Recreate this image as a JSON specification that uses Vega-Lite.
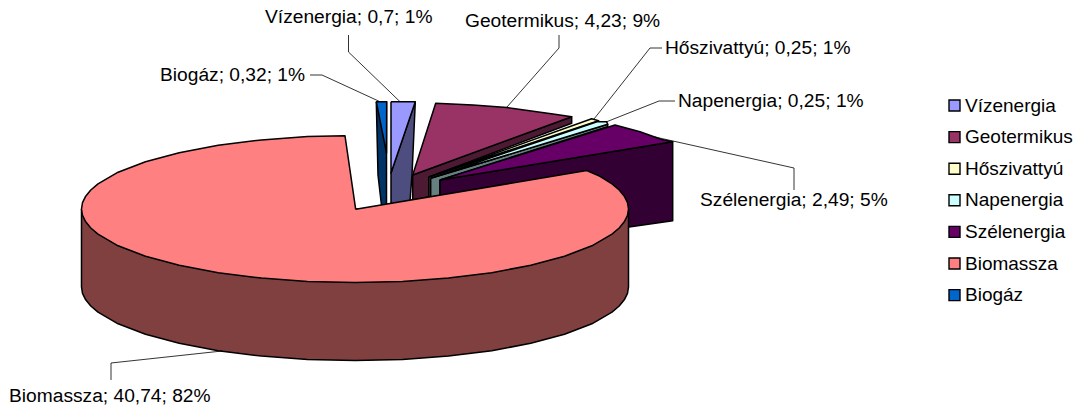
{"$schema":"https://vega.github.io/schema/vega-lite/v6.json","width":1078,"height":410,"autosize":{"type":"fit","contains":"padding"},"padding":0,"background":"white","config":{"view":{"stroke":null},"font":"Liberation Sans"},
"datasets":{"shapes":[
{"part":"Biogáz oldal","x":376.3,"y":101.7},{"part":"Biogáz oldal","x":378,"y":175},{"part":"Biogáz oldal","x":381.5,"y":205.5},{"part":"Biogáz oldal","x":386.5,"y":205},{"part":"Biogáz oldal","x":386.5,"y":101.7},{"part":"Biogáz oldal","x":376.3,"y":101.7},
{"part":"Biogáz","x":376.3,"y":101.7},{"part":"Biogáz","x":386.7,"y":101.7},{"part":"Biogáz","x":386.5,"y":153},{"part":"Biogáz","x":376.3,"y":101.7},
{"part":"Vízenergia oldal","x":415.3,"y":101.7},{"part":"Vízenergia oldal","x":412,"y":175},{"part":"Vízenergia oldal","x":410,"y":201},{"part":"Vízenergia oldal","x":391,"y":204},{"part":"Vízenergia oldal","x":391,"y":173},{"part":"Vízenergia oldal","x":415.3,"y":101.7},
{"part":"Vízenergia","x":391,"y":101.7},{"part":"Vízenergia","x":415.3,"y":101.7},{"part":"Vízenergia","x":391,"y":173},{"part":"Vízenergia","x":391,"y":101.7},
{"part":"Geotermikus oldal","x":412.7,"y":175},{"part":"Geotermikus oldal","x":571.7,"y":116.7},{"part":"Geotermikus oldal","x":571.7,"y":123.3},{"part":"Geotermikus oldal","x":429,"y":177},{"part":"Geotermikus oldal","x":429,"y":197},{"part":"Geotermikus oldal","x":412.7,"y":200},{"part":"Geotermikus oldal","x":412.7,"y":175},
{"part":"Geotermikus","x":412.7,"y":175},{"part":"Geotermikus","x":435.7,"y":103.3},{"part":"Geotermikus","x":473,"y":105},{"part":"Geotermikus","x":507,"y":107.5},{"part":"Geotermikus","x":553,"y":114},{"part":"Geotermikus","x":571.7,"y":116.7},{"part":"Geotermikus","x":412.7,"y":175},
{"part":"Hőszivattyú oldal","x":429,"y":177},{"part":"Hőszivattyú oldal","x":598.5,"y":120.7},{"part":"Hőszivattyú oldal","x":598.5,"y":123},{"part":"Hőszivattyú oldal","x":431,"y":180},{"part":"Hőszivattyú oldal","x":431,"y":197},{"part":"Hőszivattyú oldal","x":429,"y":197},{"part":"Hőszivattyú oldal","x":429,"y":177},
{"part":"Hőszivattyú","x":429,"y":177},{"part":"Hőszivattyú","x":591.7,"y":118.7},{"part":"Hőszivattyú","x":598.5,"y":120.7},{"part":"Hőszivattyú","x":429,"y":177},
{"part":"Napenergia oldal","x":430.7,"y":178.3},{"part":"Napenergia oldal","x":607.7,"y":124.3},{"part":"Napenergia oldal","x":607.7,"y":126.7},{"part":"Napenergia oldal","x":440,"y":180},{"part":"Napenergia oldal","x":440,"y":196},{"part":"Napenergia oldal","x":430.7,"y":197},{"part":"Napenergia oldal","x":430.7,"y":178.3},
{"part":"Napenergia","x":430.7,"y":178.3},{"part":"Napenergia","x":597,"y":121.7},{"part":"Napenergia","x":606.7,"y":121.7},{"part":"Napenergia","x":607.7,"y":124.3},{"part":"Napenergia","x":430.7,"y":178.3},
{"part":"Szélenergia oldal","x":440,"y":180},{"part":"Szélenergia oldal","x":672.7,"y":141.7},{"part":"Szélenergia oldal","x":672.7,"y":220.7},{"part":"Szélenergia oldal","x":629,"y":227},{"part":"Szélenergia oldal","x":440,"y":250},{"part":"Szélenergia oldal","x":440,"y":180},
{"part":"Szélenergia","x":440,"y":180},{"part":"Szélenergia","x":615,"y":125},{"part":"Szélenergia","x":640,"y":131.7},{"part":"Szélenergia","x":661.7,"y":139.5},{"part":"Szélenergia","x":672.7,"y":141.7},{"part":"Szélenergia","x":440,"y":180},
{"part":"Biomassza oldal","x":81.5,"y":209},{"part":"Biomassza oldal","x":81.5,"y":287},{"part":"Biomassza oldal","x":82.5,"y":293.4},{"part":"Biomassza oldal","x":85.7,"y":299.8},{"part":"Biomassza oldal","x":90.8,"y":306},{"part":"Biomassza oldal","x":98,"y":312.1},{"part":"Biomassza oldal","x":118.1,"y":323.8},{"part":"Biomassza oldal","x":145.5,"y":334.3},{"part":"Biomassza oldal","x":179.2,"y":343.3},{"part":"Biomassza oldal","x":218.2,"y":350.7},{"part":"Biomassza oldal","x":261.5,"y":356.1},{"part":"Biomassza oldal","x":307.5,"y":359.4},{"part":"Biomassza oldal","x":355,"y":360.5},{"part":"Biomassza oldal","x":402.5,"y":359.4},{"part":"Biomassza oldal","x":448.5,"y":356.1},{"part":"Biomassza oldal","x":491.8,"y":350.7},{"part":"Biomassza oldal","x":530.8,"y":343.3},{"part":"Biomassza oldal","x":564.5,"y":334.3},{"part":"Biomassza oldal","x":591.9,"y":323.8},{"part":"Biomassza oldal","x":612,"y":312.1},{"part":"Biomassza oldal","x":619.2,"y":306},{"part":"Biomassza oldal","x":624.3,"y":299.8},{"part":"Biomassza oldal","x":627.5,"y":293.4},{"part":"Biomassza oldal","x":628.5,"y":287},{"part":"Biomassza oldal","x":628.5,"y":209},{"part":"Biomassza oldal","x":81.5,"y":209},
{"part":"Biomassza","x":355.7,"y":209.3},{"part":"Biomassza","x":586.7,"y":170.5},{"part":"Biomassza","x":600,"y":176.3},{"part":"Biomassza","x":612,"y":183.9},{"part":"Biomassza","x":619.2,"y":190},{"part":"Biomassza","x":624.3,"y":196.2},{"part":"Biomassza","x":627.5,"y":202.6},{"part":"Biomassza","x":628.5,"y":209},{"part":"Biomassza","x":627.5,"y":215.4},{"part":"Biomassza","x":624.3,"y":221.8},{"part":"Biomassza","x":619.2,"y":228},{"part":"Biomassza","x":612,"y":234.1},{"part":"Biomassza","x":591.9,"y":245.8},{"part":"Biomassza","x":564.5,"y":256.3},{"part":"Biomassza","x":530.8,"y":265.3},{"part":"Biomassza","x":491.8,"y":272.7},{"part":"Biomassza","x":448.5,"y":278.1},{"part":"Biomassza","x":402.5,"y":281.4},{"part":"Biomassza","x":355,"y":282.5},{"part":"Biomassza","x":307.5,"y":281.4},{"part":"Biomassza","x":261.5,"y":278.1},{"part":"Biomassza","x":218.2,"y":272.7},{"part":"Biomassza","x":179.2,"y":265.3},{"part":"Biomassza","x":145.5,"y":256.3},{"part":"Biomassza","x":118.1,"y":245.8},{"part":"Biomassza","x":98,"y":234.1},{"part":"Biomassza","x":90.8,"y":228},{"part":"Biomassza","x":85.7,"y":221.8},{"part":"Biomassza","x":82.5,"y":215.4},{"part":"Biomassza","x":81.5,"y":209},{"part":"Biomassza","x":82.5,"y":202.6},{"part":"Biomassza","x":85.7,"y":196.2},{"part":"Biomassza","x":90.8,"y":190},{"part":"Biomassza","x":98,"y":183.9},{"part":"Biomassza","x":118.1,"y":172.2},{"part":"Biomassza","x":145.5,"y":161.7},{"part":"Biomassza","x":179.2,"y":152.7},{"part":"Biomassza","x":218.2,"y":145.3},{"part":"Biomassza","x":261.5,"y":139.9},{"part":"Biomassza","x":307.5,"y":136.6},{"part":"Biomassza","x":345,"y":135.8},{"part":"Biomassza","x":355.7,"y":209.3}
],
"leaders":[
{"k":"Vízenergia","x":348.5,"y":35},{"k":"Vízenergia","x":348.5,"y":52},{"k":"Vízenergia","x":400,"y":101.7},
{"k":"Biogáz","x":310,"y":75},{"k":"Biogáz","x":322,"y":75},{"k":"Biogáz","x":380,"y":101.7},
{"k":"Geotermikus","x":559,"y":35},{"k":"Geotermikus","x":559,"y":48},{"k":"Geotermikus","x":507,"y":107},
{"k":"Hőszivattyú","x":662,"y":48},{"k":"Hőszivattyú","x":650,"y":48},{"k":"Hőszivattyú","x":594,"y":119},
{"k":"Napenergia","x":675,"y":101},{"k":"Napenergia","x":659,"y":101},{"k":"Napenergia","x":606,"y":122},
{"k":"Szélenergia","x":794,"y":190},{"k":"Szélenergia","x":794,"y":168},{"k":"Szélenergia","x":655,"y":137},
{"k":"Biomassza","x":111,"y":380},{"k":"Biomassza","x":111,"y":363},{"k":"Biomassza","x":222,"y":351}
],
"labels":[
{"label":"Vízenergia; 0,7; 1%","value":0.7,"share":1,"x":265,"y":17},
{"label":"Geotermikus; 4,23; 9%","value":4.23,"share":9,"x":465,"y":21},
{"label":"Hőszivattyú; 0,25; 1%","value":0.25,"share":1,"x":665,"y":48},
{"label":"Napenergia; 0,25; 1%","value":0.25,"share":1,"x":678,"y":101},
{"label":"Szélenergia; 2,49; 5%","value":2.49,"share":5,"x":700,"y":200},
{"label":"Biomassza; 40,74; 82%","value":40.74,"share":82,"x":9,"y":396},
{"label":"Biogáz; 0,32; 1%","value":0.32,"share":1,"x":160,"y":75}
]},
"layer":[
{"data":{"name":"shapes"},"transform":[{"window":[{"op":"row_number","as":"i"}]}],"mark":{"type":"line","stroke":"black","strokeWidth":1.5,"strokeJoin":"round","clip":false},
"encoding":{
"x":{"field":"x","type":"quantitative","scale":{"domain":[0,1078],"nice":false,"zero":false},"axis":null},
"y":{"field":"y","type":"quantitative","scale":{"domain":[410,0],"nice":false,"zero":false},"axis":null},
"order":{"field":"i"},
"detail":{"field":"part"},
"fill":{"field":"part","type":"nominal","sort":null,
"scale":{"domain":["Vízenergia","Geotermikus","Hőszivattyú","Napenergia","Szélenergia","Biomassza","Biogáz","Vízenergia oldal","Geotermikus oldal","Hőszivattyú oldal","Napenergia oldal","Szélenergia oldal","Biomassza oldal","Biogáz oldal"],
"range":["#9999FF","#993366","#FFFFCC","#CCFFFF","#660066","#FF8080","#0066CC","#4D4D80","#4D1A33","#808066","#668080","#330033","#804040","#003366"]},
"legend":{"title":null,"orient":"none","legendX":945,"legendY":96,"values":["Vízenergia","Geotermikus","Hőszivattyú","Napenergia","Szélenergia","Biomassza","Biogáz"],"symbolType":"square","symbolSize":121,"symbolStrokeColor":"black","symbolStrokeWidth":1.4,"symbolOpacity":1,"labelFont":"Liberation Sans","labelFontSize":19,"labelColor":"black","rowPadding":11.6,"labelOffset":1,"labelLimit":200,"padding":0}}}},
{"data":{"name":"leaders"},"transform":[{"window":[{"op":"row_number","as":"i"}]}],"mark":{"type":"line","stroke":"black","strokeWidth":0.8,"clip":false},
"encoding":{"x":{"field":"x","type":"quantitative"},"y":{"field":"y","type":"quantitative"},"order":{"field":"i"},"detail":{"field":"k"}}},
{"data":{"name":"labels"},"mark":{"type":"text","align":"left","baseline":"middle","font":"Liberation Sans","fontSize":19.2,"color":"black"},
"encoding":{"x":{"field":"x","type":"quantitative"},"y":{"field":"y","type":"quantitative"},"text":{"field":"label"}}}
]}
